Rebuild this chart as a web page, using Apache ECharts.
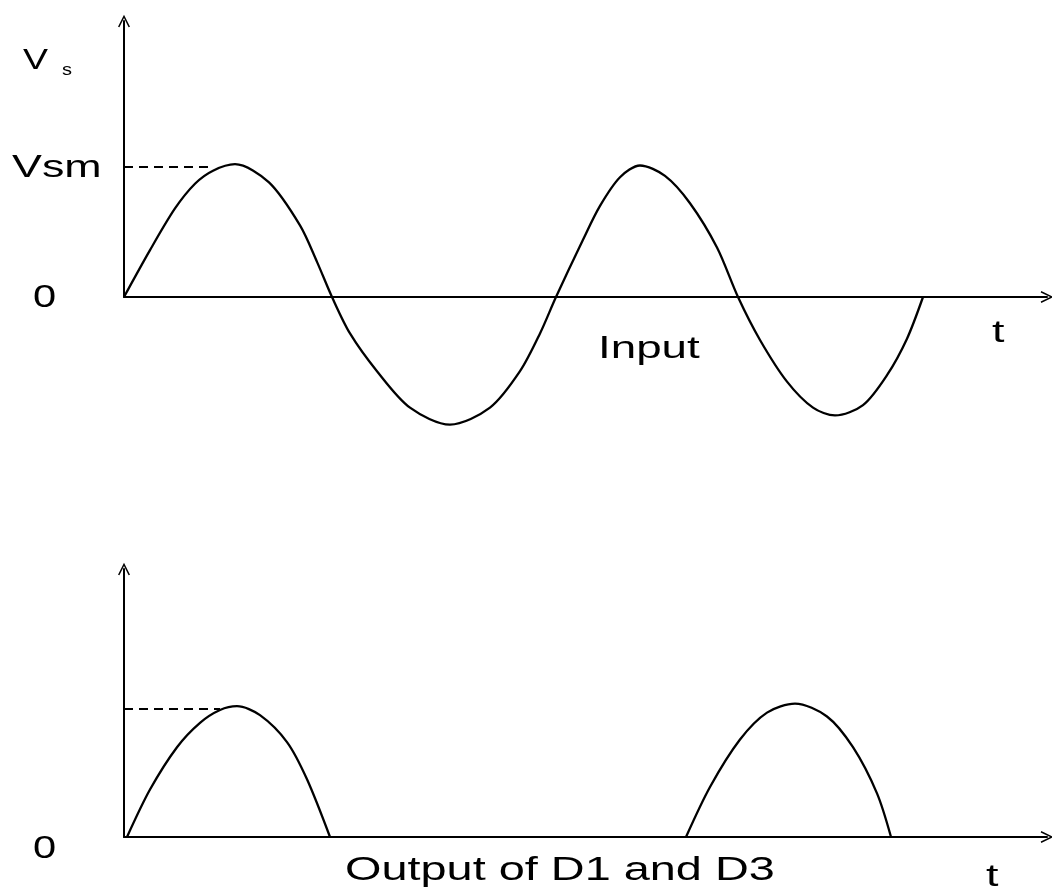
<!DOCTYPE html>
<html>
<head>
<meta charset="utf-8">
<title>Input and output of D1 and D3</title>
<script src="https://cdn.jsdelivr.net/npm/echarts@6/dist/echarts.min.js"></script>
<style>
  html, body { margin: 0; padding: 0; background: #fff; }
  #chart { width: 1052px; height: 893px; }
</style>
</head>
<body>
<div id="chart"></div>
<script>
// time axis (arbitrary units) and voltage in units of Vsm
// input Vs
const inputT = [0, 2.6, 5.1, 7.1, 8.9, 11.1, 14.5, 17.6, 19.3, 20.8,
  22.6, 25.3, 28.6, 32.6, 36.6, 39.6, 41.6, 43.2,
  45.9, 47.6, 49.6, 51.6, 54.1, 56.6, 59.3, 61.4,
  63.6, 66.3, 68.9, 71.1, 73.9, 76.3, 78.3, 79.9];
const inputV = [0, 0.36, 0.68, 0.87, 0.97, 1.02, 0.88, 0.55, 0.27, 0,
  -0.28, -0.57, -0.85, -0.98, -0.85, -0.57, -0.28, 0,
  0.44, 0.70, 0.92, 1.01, 0.93, 0.72, 0.38, 0,
  -0.33, -0.65, -0.85, -0.91, -0.83, -0.60, -0.32, 0];

// output of D1 and D3: two half waves
const out1T = [0.3, 2.6, 5.3, 7.6, 9.6, 11.3, 13.6, 16.3, 18.3, 20.6];
const out1V = [0, 0.37, 0.70, 0.89, 0.99, 1.02, 0.95, 0.74, 0.45, 0];
const out2T = [56.2, 58.6, 61.6, 64.3, 67.1, 70.3, 72.9, 75.3, 76.7];
const out2V = [0, 0.39, 0.76, 0.97, 1.04, 0.94, 0.70, 0.34, 0];

const vsm = 1;
const inputDashEnd = 9.0;
const outputDashEnd = 9.6;

const labels = {
  vs: 'V', vsSub: 's', vsm: 'Vsm', zero: '0', t: 't',
  input: 'Input', output: 'Output of D1 and D3'
};

const zip = (xs, ys) => xs.map((x, i) => [x, ys[i]]);

// thin open arrow head, tip pointing up (axis code rotates it)
const ARROW = 'path://M0,12 L6,0 L12,12 L10.6,12.6 L6,3.2 L1.4,12.6 Z';
const FONT = '"Liberation Sans", Arial, Helvetica, sans-serif';

const axisLine = {
  show: true,
  onZero: false,
  symbol: ['none', ARROW],
  symbolSize: [12, 14],
  lineStyle: { color: '#000', width: 2 }
};
const bare = {
  axisLine: axisLine,
  axisTick: { show: false },
  axisLabel: { show: false },
  splitLine: { show: false }
};

const dash = (end) => ({
  silent: true,
  symbol: 'none',
  label: { show: false },
  lineStyle: { color: '#000', width: 2, type: [9, 6] },
  data: [[{ coord: [0, vsm] }, { coord: [end, vsm] }]]
});

const curve = {
  type: 'line',
  showSymbol: false,
  smooth: 0.3,
  clip: false,
  silent: true,
  lineStyle: { color: '#000', width: 2.3 }
};

const txt = (text, x, y, size, sx) => ({
  type: 'text',
  x: x,
  y: y,
  scaleX: sx,
  silent: true,
  style: {
    text: text,
    font: size + 'px ' + FONT,
    fill: '#000',
    align: 'left',
    verticalAlign: 'middle'
  }
});

const chart = echarts.init(document.getElementById('chart'));

const option = {
  animation: false,
  backgroundColor: '#fff',
  grid: [
    { left: 124, right: 5, top: 21, height: 276 },
    { left: 124, right: 5, top: 569, height: 268 }
  ],
  xAxis: [
    Object.assign({ type: 'value', gridIndex: 0, min: 0, max: 92.3 }, bare),
    Object.assign({ type: 'value', gridIndex: 1, min: 0, max: 92.3 }, bare)
  ],
  yAxis: [
    Object.assign({ type: 'value', gridIndex: 0, min: 0, max: 2.12 }, bare),
    Object.assign({ type: 'value', gridIndex: 1, min: 0, max: 2.09 }, bare)
  ],
  series: [
    Object.assign({}, curve, {
      name: 'Input', xAxisIndex: 0, yAxisIndex: 0,
      data: zip(inputT, inputV),
      markLine: dash(inputDashEnd)
    }),
    Object.assign({}, curve, {
      name: 'Output 1', xAxisIndex: 1, yAxisIndex: 1,
      data: zip(out1T, out1V),
      markLine: dash(outputDashEnd)
    }),
    Object.assign({}, curve, {
      name: 'Output 2', xAxisIndex: 1, yAxisIndex: 1,
      data: zip(out2T, out2V)
    })
  ],
  graphic: [
    txt(labels.vs, 23, 61, 30, 1.25),
    txt(labels.vsSub, 62, 71, 16, 1.25),
    txt(labels.vsm, 12, 168, 32, 1.4),
    txt(labels.zero, 33, 298, 32, 1.3),
    txt(labels.t, 992, 333, 32, 1.4),
    txt(labels.input, 598, 349, 32, 1.43),
    txt(labels.zero, 33, 849, 32, 1.3),
    txt(labels.output, 345, 871, 33, 1.42),
    txt(labels.t, 986, 877, 32, 1.4)
  ]
};

chart.setOption(option);
</script>
</body>
</html>
